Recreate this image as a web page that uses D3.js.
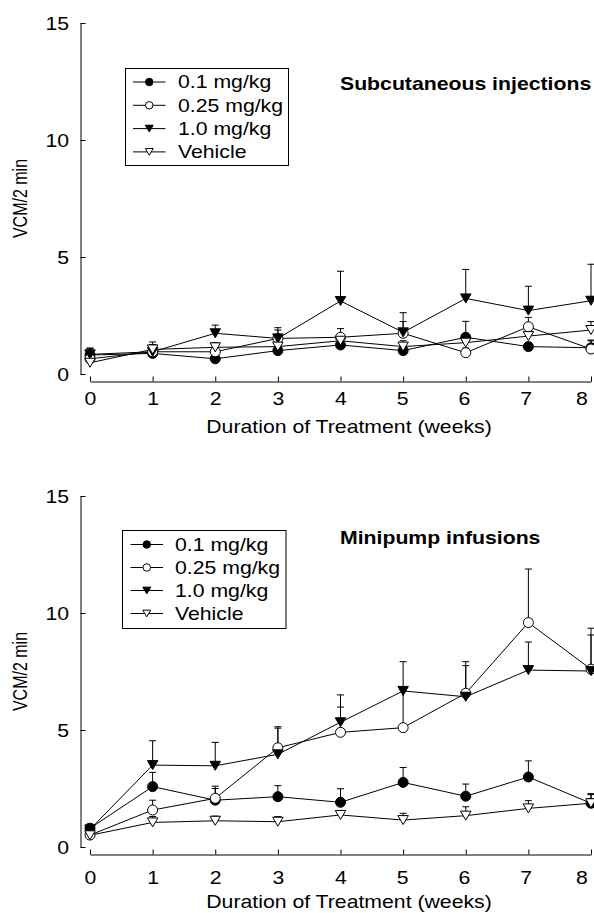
<!DOCTYPE html>
<html>
<head>
<meta charset="utf-8">
<script src="https://cdn.jsdelivr.net/npm/d3@7"></script>
<style>
  body { margin: 0; background: #fff; }
</style>
</head>
<body>
<div id="chart"></div>
<script>
// weeks of treatment and group names
const weeks = [0, 1, 2, 3, 4, 5, 6, 7, 8];
const doseLabels = ["0.1 mg/kg", "0.25 mg/kg", "1.0 mg/kg", "Vehicle"];
const yTicks = [0, 5, 10, 15];

// subcutaneous injections: mean VCM/2 min and +SEM
const scLow = [0.81, 0.88, 0.65, 1.0, 1.24, 1.0, 1.57, 1.17, 1.12];
const scLowErr = [0.3, 0.35, 0.15, 0.2, 0.15, 0.15, 0.68, 0.15, 0.3];
const scMid = [0.65, 0.95, 0.95, 1.52, 1.57, 1.74, 0.91, 2.02, 1.07];
const scMidErr = [0.2, 0.3, 0.2, 0.36, 0.37, 0.5, 0.2, 0.4, 0.38];
const scHigh = [0.84, 0.95, 1.74, 1.52, 3.12, 1.78, 3.23, 2.71, 3.13];
const scHighErr = [0.25, 0.3, 0.35, 0.46, 1.27, 0.84, 1.24, 1.04, 1.56];
const scVeh = [0.48, 1.05, 1.14, 1.17, 1.42, 1.17, 1.34, 1.62, 1.88];
const scVehErr = [0.2, 0.32, 0.2, 0.2, 0.2, 0.25, 0.2, 0.25, 0.36];

// minipump infusions
const mpLow = [0.8, 2.58, 2.0, 2.15, 1.91, 2.76, 2.17, 2.99, 1.87];
const mpLowErr = [0.18, 0.61, 0.5, 0.47, 0.58, 0.64, 0.52, 0.69, 0.41];
const mpMid = [0.51, 1.58, 2.08, 4.24, 4.9, 5.1, 6.57, 9.59, 7.6];
const mpMidErr = [0.2, 0.42, 0.52, 0.9, 1.08, 1.6, 1.35, 2.29, 1.75];
const mpHigh = [0.75, 3.5, 3.47, 3.96, 5.33, 6.67, 6.42, 7.56, 7.52];
const mpHighErr = [0.2, 1.04, 1.0, 1.12, 1.17, 1.25, 1.33, 1.2, 1.54];
const mpVeh = [0.5, 1.05, 1.12, 1.08, 1.37, 1.15, 1.34, 1.65, 1.87];
const mpVehErr = [0.15, 0.25, 0.2, 0.22, 0.15, 0.29, 0.38, 0.33, 0.37];

const width = 594, height = 913;
const SX = 1.18; // the figure's lettering is drawn wider than the font
const fontFamily = '"Liberation Sans", Arial, Helvetica, sans-serif';
const fontSize = 18;

const panels = [
  {
    title: "Subcutaneous injections",
    means: [scLow, scMid, scHigh, scVeh],
    errs: [scLowErr, scMidErr, scHighErr, scVehErr],
    yRange: [374, 23], axisY: 381.5, tickLabelY: 23.5, xTitleY: 433,
    titleY: 89.7, yTitleY: 198.5,
    legend: {x: 125.5, y: 68.5, w: 163, h: 97, first: 82, step: 23.3, x0: 133, x1: 165.5, tx: 178}
  },
  {
    title: "Minipump infusions",
    means: [mpLow, mpMid, mpHigh, mpVeh],
    errs: [mpLowErr, mpMidErr, mpHighErr, mpVehErr],
    yRange: [847, 496], axisY: 854.5, tickLabelY: 29, xTitleY: 908,
    titleY: 543.7, yTitleY: 671.5,
    legend: {x: 122.5, y: 530.5, w: 163.5, h: 98, first: 544.5, step: 23, x0: 130.5, x1: 163, tx: 175}
  }
];

const x = d3.scaleLinear([0, 8], [90, 591]);

// 0 filled circle, 1 open circle, 2 filled down triangle, 3 open down triangle
function marker(sel, type, s) {
  if (type < 2) {
    sel.append("circle").attr("r", s / 2);
  } else {
    const w = s * 1.05, h = s * 0.9;
    sel.append("path").attr("d", `M${-w / 2},${-h / 2}L${w / 2},${-h / 2}L0,${h / 2}Z`);
  }
  sel.attr("fill", type % 2 === 0 ? "#000" : "#fff")
     .attr("stroke", "#000")
     .attr("stroke-width", 1);
}

const svg = d3.select("#chart").append("svg")
    .attr("width", width)
    .attr("height", height)
    .attr("viewBox", [0, 0, width, height])
    .attr("font-family", fontFamily)
    .attr("font-size", fontSize);

panels.forEach(p => {
  const y = d3.scaleLinear([0, 15], p.yRange);
  const g = svg.append("g");

  // y axis, ticks pointing inward
  g.append("g")
      .attr("transform", "translate(80.5,0)")
      .call(d3.axisLeft(y).tickValues(yTicks).tickSizeInner(-5).tickSizeOuter(0).tickPadding(0))
      .call(a => a.attr("font-size", null).attr("font-family", null))
      .call(a => a.selectAll(".tick text")
          .attr("x", 0).attr("dy", "0.35em")
          .attr("transform", `translate(-11.5,0) scale(${SX},1)`));

  // x axis, ticks pointing up; the last label is kept inside the page
  g.append("g")
      .attr("transform", `translate(0,${p.axisY})`)
      .call(d3.axisBottom(x).tickValues(weeks).tickSizeInner(-5).tickSizeOuter(0).tickPadding(0))
      .call(a => a.attr("font-size", null).attr("font-family", null))
      .call(a => a.selectAll(".tick text")
          .attr("y", 0).attr("dy", null)
          .attr("text-anchor", d => d === 8 ? "end" : "middle")
          .attr("transform", d => `translate(${d >= 5 ? -(d - 4) * 0.9 : 0},${p.tickLabelY}) scale(${SX},1)`));

  g.append("text")
      .attr("text-anchor", "middle")
      .attr("transform", `translate(349,${p.xTitleY}) scale(${SX},1)`)
      .text("Duration of Treatment (weeks)");

  g.append("text")
      .attr("text-anchor", "middle")
      .attr("font-size", 16)
      .attr("dy", "0.35em")
      .attr("transform", `translate(20,${p.yTitleY}) scale(1.3,1) rotate(-90)`)
      .text("VCM/2 min");

  g.append("text")
      .attr("font-weight", "bold")
      .attr("transform", `translate(340,${p.titleY}) scale(${SX},1)`)
      .text(p.title);

  // series lines and upward error bars
  const line = d3.line().x((d, i) => x(weeks[i])).y(d => y(d));
  p.means.forEach((vals, k) => {
    g.append("path")
        .attr("d", line(vals))
        .attr("fill", "none")
        .attr("stroke", "#000")
        .attr("stroke-width", 1);
    const eb = g.append("g").attr("stroke", "#000").attr("stroke-width", 1)
      .selectAll("g").data(vals).join("g");
    eb.append("line")
        .attr("x1", (d, i) => x(weeks[i])).attr("x2", (d, i) => x(weeks[i]))
        .attr("y1", d => y(d)).attr("y2", (d, i) => y(d + p.errs[k][i]));
    eb.append("line")
        .attr("x1", (d, i) => x(weeks[i]) - 3.5).attr("x2", (d, i) => x(weeks[i]) + 3.5)
        .attr("y1", (d, i) => y(d + p.errs[k][i])).attr("y2", (d, i) => y(d + p.errs[k][i]));
  });

  p.means.forEach((vals, k) => {
    g.append("g").selectAll("g").data(vals).join("g")
        .attr("transform", (d, i) => `translate(${x(weeks[i])},${y(d)})`)
        .each(function() { marker(d3.select(this), k, 10); });
  });

  // legend
  const L = p.legend;
  g.append("rect")
      .attr("x", L.x).attr("y", L.y).attr("width", L.w).attr("height", L.h)
      .attr("fill", "#fff").attr("stroke", "#000").attr("stroke-width", 1);
  doseLabels.forEach((name, k) => {
    const cy = L.first + k * L.step;
    g.append("line")
        .attr("x1", L.x0).attr("x2", L.x1).attr("y1", cy).attr("y2", cy)
        .attr("stroke", "#000").attr("stroke-width", 1);
    g.append("g")
        .attr("transform", `translate(${(L.x0 + L.x1) / 2},${cy})`)
        .call(s => marker(s, k, 7.5));
    g.append("text")
        .attr("dy", "0.35em")
        .attr("transform", `translate(${L.tx},${cy}) scale(${SX},1)`)
        .text(name);
  });
});
</script>
</body>
</html>
